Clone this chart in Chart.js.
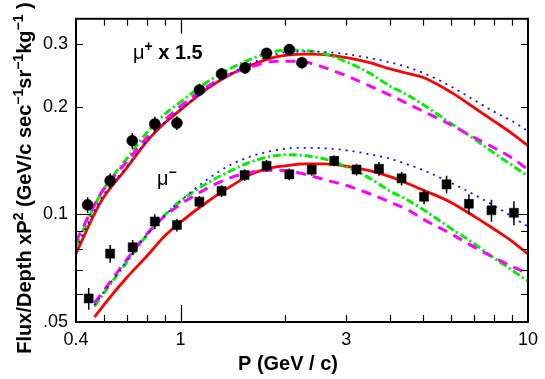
<!DOCTYPE html>
<html>
<head>
<meta charset="utf-8">
<script src="https://cdn.jsdelivr.net/npm/chart.js@4.4.1/dist/chart.umd.min.js"></script>
<style>
  html, body { margin: 0; padding: 0; background: #fff; }
</style>
</head>
<body>
<canvas id="grafica" width="545" height="379"></canvas>
<script>
// momento (GeV/c) donde se leen las curvas de los modelos
const pModel = [0.5, 0.565, 0.6, 0.7, 0.8, 0.9, 1.0, 1.2, 1.4, 1.6, 1.8, 2.0, 2.3, 2.6, 3.0, 3.5, 4.0, 4.5, 5.0, 6.0, 7.0, 8.0, 9.0, 10.0];

// modelos mu+ (x 1.5)
const plusRed     = [0.0777, 0.1004, 0.1115, 0.1350, 0.1603, 0.1803, 0.1963, 0.2259, 0.2474, 0.2620, 0.2731, 0.2788, 0.2811, 0.2802, 0.2747, 0.2661, 0.2556, 0.2483, 0.2419, 0.2200, 0.1990, 0.1823, 0.1685, 0.1559];
const plusBlue    = [0.0800, 0.1025, 0.1135, 0.1360, 0.1610, 0.1810, 0.1970, 0.2266, 0.2485, 0.2650, 0.2767, 0.2846, 0.2860, 0.2851, 0.2811, 0.2742, 0.2666, 0.2584, 0.2490, 0.2283, 0.2090, 0.1937, 0.1825, 0.1711];
const plusGreen   = [0.0815, 0.1056, 0.1175, 0.1433, 0.1695, 0.1906, 0.2067, 0.2355, 0.2569, 0.2725, 0.2834, 0.2885, 0.2872, 0.2819, 0.2675, 0.2486, 0.2290, 0.2159, 0.2029, 0.1797, 0.1627, 0.1483, 0.1373, 0.1278];
const plusMagenta = [0.0841, 0.1065, 0.1175, 0.1406, 0.1643, 0.1837, 0.2010, 0.2290, 0.2480, 0.2590, 0.2675, 0.2687, 0.2666, 0.2576, 0.2445, 0.2290, 0.2159, 0.2042, 0.1943, 0.1781, 0.1643, 0.1535, 0.1438, 0.1335];

// modelos mu-
const minusRed     = [null, 0.0516, 0.0557, 0.0666, 0.0765, 0.0870, 0.0952, 0.1089, 0.1202, 0.1298, 0.1348, 0.1368, 0.1385, 0.1385, 0.1364, 0.1326, 0.1276, 0.1221, 0.1169, 0.1081, 0.0988, 0.0909, 0.0841, 0.0775];
const minusBlue    = [null, 0.0558, 0.0605, 0.0740, 0.0878, 0.0992, 0.1092, 0.1258, 0.1381, 0.1456, 0.1501, 0.1528, 0.1537, 0.1532, 0.1512, 0.1474, 0.1433, 0.1381, 0.1330, 0.1227, 0.1136, 0.1057, 0.0985, 0.0925];
const minusGreen   = [null, 0.0553, 0.0601, 0.0736, 0.0876, 0.0996, 0.1091, 0.1228, 0.1327, 0.1406, 0.1451, 0.1470, 0.1460, 0.1429, 0.1360, 0.1264, 0.1164, 0.1098, 0.1031, 0.0914, 0.0828, 0.0754, 0.0698, 0.0650];
const minusMagenta = [null, 0.0566, 0.0611, 0.0748, 0.0882, 0.0989, 0.1068, 0.1188, 0.1270, 0.1314, 0.1330, 0.1326, 0.1294, 0.1251, 0.1205, 0.1143, 0.1084, 0.1031, 0.0969, 0.0883, 0.0810, 0.0756, 0.0715, 0.0683];

// datos medidos mu+ (x 1.5)
const plusP    = [0.540, 0.627, 0.726, 0.843, 0.976, 1.133, 1.312, 1.533, 1.768, 2.056, 2.234];
const plusFlux = [0.1064, 0.1243, 0.1609, 0.1792, 0.1803, 0.2231, 0.2475, 0.2574, 0.2825, 0.2895, 0.2661];
const plusErr  = [0.0054, 0.0060, 0.0082, 0.0086, 0.0080, 0.0090, 0.0095, 0.0095, 0.0100, 0.0100, 0.0095];

// datos medidos mu-
const minusP    = [0.544, 0.627, 0.728, 0.843, 0.976, 1.133, 1.312, 1.528, 1.768, 2.056, 2.385, 2.768, 3.210, 3.726, 4.327, 5.02, 5.83, 6.76, 7.85, 9.11];
const minusFlux = [0.0582, 0.0777, 0.0809, 0.0956, 0.0934, 0.1086, 0.1163, 0.1290, 0.1369, 0.1295, 0.1335, 0.1413, 0.1336, 0.1343, 0.1262, 0.1121, 0.1214, 0.1071, 0.1027, 0.1011];
const minusErr  = [0.0041, 0.0045, 0.0039, 0.0046, 0.0038, 0.0041, 0.0044, 0.0049, 0.0052, 0.0049, 0.0051, 0.0049, 0.0051, 0.0060, 0.0056, 0.0053, 0.0070, 0.0069, 0.0073, 0.0078];

// etiquetas de los ejes
const xLabelVals = [0.5, 1, 3, 10];
const xLabelText = ['0.4', '1', '3', '10'];
const yLabelVals = [0.05, 0.1, 0.2, 0.3];
const yLabelText = ['.05', '0.1', '0.2', '0.3'];
const xMarks = [0.6, 0.7, 0.8, 0.9, 1, 2, 3, 4, 5, 6, 7, 8, 9];
const yMarks = [0.06, 0.07, 0.08, 0.09, 0.1, 0.2, 0.3];

const FONT = '"Liberation Sans", Arial, Helvetica, sans-serif';

const toXY = (xs, ys) => xs.map((x, i) => ({ x: x, y: ys[i] }));

function curve(ys, color, dash, width) {
    return {
        data: toXY(pModel, ys),
        borderColor: color,
        borderWidth: width,
        borderDash: dash,
        pointRadius: 0,
        fill: false,
        cubicInterpolationMode: 'monotone'
    };
}

function puntos(xs, ys, style, r) {
    return {
        data: toXY(xs, ys),
        showLine: false,
        pointStyle: style,
        pointRadius: r,
        backgroundColor: '#000',
        borderColor: '#000',
        borderWidth: 0.5
    };
}

// texto con superindices: partes = [texto, sup, negrita]
function anchoRico(ctx, partes, size) {
    let w = 0;
    partes.forEach(([t, sup, bold]) => {
        ctx.font = `${bold ? 'bold ' : ''}${sup ? size * 0.7 : size}px ${FONT}`;
        w += ctx.measureText(t).width;
    });
    return w;
}
function textoRico(ctx, partes, x, y, size) {
    let cx = x;
    partes.forEach(([t, sup, bold]) => {
        ctx.font = `${bold ? 'bold ' : ''}${sup ? size * 0.7 : size}px ${FONT}`;
        ctx.fillText(t, cx, sup ? y - size * 0.4 : y);
        cx += ctx.measureText(t).width;
    });
}

// barras de error, marco y marcas hacia dentro, textos
const extras = {
    id: 'extras',
    afterDatasetsDraw(chart) {
        const { ctx, scales: { x, y } } = chart;
        ctx.save();
        ctx.strokeStyle = '#000';
        ctx.lineWidth = 1.5;
        ctx.beginPath();
        [[plusP, plusFlux, plusErr], [minusP, minusFlux, minusErr]].forEach(([ps, fs, es]) => {
            ps.forEach((p, i) => {
                const px = x.getPixelForValue(p);
                ctx.moveTo(px, y.getPixelForValue(fs[i] - es[i]));
                ctx.lineTo(px, y.getPixelForValue(fs[i] + es[i]));
            });
        });
        ctx.stroke();
        ctx.restore();
    },
    afterDraw(chart) {
        const { ctx, chartArea: a, scales: { x, y } } = chart;
        ctx.save();
        ctx.strokeStyle = '#000';
        ctx.lineWidth = 1.2;
        ctx.beginPath();
        xMarks.forEach(v => {
            const px = Math.round(x.getPixelForValue(v)) + 0.5;
            const len = v === 1 ? 17 : 7;
            ctx.moveTo(px, a.bottom); ctx.lineTo(px, a.bottom - len);
            ctx.moveTo(px, a.top); ctx.lineTo(px, a.top + (v === 1 ? 15 : 7));
        });
        yMarks.forEach(v => {
            const py = Math.round(y.getPixelForValue(v)) + 0.5;
            const len = v === 0.1 ? 15 : 7;
            ctx.moveTo(a.left, py); ctx.lineTo(a.left + len, py);
            ctx.moveTo(a.right, py); ctx.lineTo(a.right - len, py);
        });
        ctx.stroke();
        ctx.lineWidth = 2;
        ctx.strokeRect(a.left, a.top, a.right - a.left, a.bottom - a.top);

        ctx.fillStyle = '#000';
        ctx.textBaseline = 'alphabetic';
        ctx.textAlign = 'left';
        // etiquetas de las curvas
        textoRico(ctx, [['\u03bc', false, false], ['+', true, true], [' x 1.5', false, true]], 133, 59, 20);
        textoRico(ctx, [['\u03bc', false, false], ['\u2212', true, true]], 157, 185, 20);

        // titulo eje x
        ctx.font = `bold 20px ${FONT}`;
        ctx.textAlign = 'center';
        ctx.fillText('P (GeV / c)', 288, 370);

        // titulo eje y
        const partesY = [['Flux/Depth xP', false, true], ['2', true, true], [' (GeV/c sec', false, true],
            ['\u22121', true, true], ['sr', false, true], ['\u22121', true, true], ['kg', false, true],
            ['\u22121', true, true], [' )', false, true]];
        const w = anchoRico(ctx, partesY, 20);
        ctx.translate(31, 178);
        ctx.rotate(-Math.PI / 2);
        ctx.textAlign = 'left';
        textoRico(ctx, partesY, -w / 2, 0, 20);
        ctx.restore();
    }
};

const grafica = new Chart(document.getElementById('grafica'), {
    type: 'line',
    data: {
        datasets: [
            puntos(plusP, plusFlux, 'circle', 5.5),
            puntos(minusP, minusFlux, 'rect', 6.4),
            curve(plusBlue, '#1010ff', [2, 5], 1.8),
            curve(minusBlue, '#1010ff', [2, 5], 1.8),
            curve(plusMagenta, '#ff00ff', [10, 7], 3),
            curve(minusMagenta, '#ff00ff', [10, 7], 3),
            curve(plusGreen, '#00ee00', [8, 3, 2, 3], 3),
            curve(minusGreen, '#00ee00', [8, 3, 2, 3], 3),
            curve(plusRed, '#ff0000', [], 2.8),
            curve(minusRed, '#ff0000', [], 2.8)
        ]
    },
    options: {
        responsive: false,
        animation: false,
        layout: { padding: { top: 6.5, right: 13.5, left: 0, bottom: 0 } },
        plugins: { legend: { display: false }, tooltip: { enabled: false } },
        scales: {
            x: {
                type: 'logarithmic',
                min: 0.5,
                max: 10,
                grid: { display: false, drawTicks: false },
                border: { display: false },
                afterBuildTicks: s => { s.ticks = xLabelVals.map(v => ({ value: v })); },
                afterFit: s => { s.height = 57; },
                ticks: {
                    autoSkip: false, maxRotation: 0, padding: 7, color: '#000',
                    font: { family: FONT, size: 18 },
                    callback: (v, i) => xLabelText[i]
                }
            },
            y: {
                type: 'logarithmic',
                min: 0.05,
                max: 0.353,
                grid: { display: false, drawTicks: false },
                border: { display: false },
                afterBuildTicks: s => { s.ticks = yLabelVals.map(v => ({ value: v })); },
                afterFit: s => { s.width = 76; },
                ticks: {
                    autoSkip: false, padding: 8, color: '#000',
                    font: { family: FONT, size: 18 },
                    callback: (v, i) => yLabelText[i]
                }
            }
        }
    },
    plugins: [extras]
});
</script>
</body>
</html>
